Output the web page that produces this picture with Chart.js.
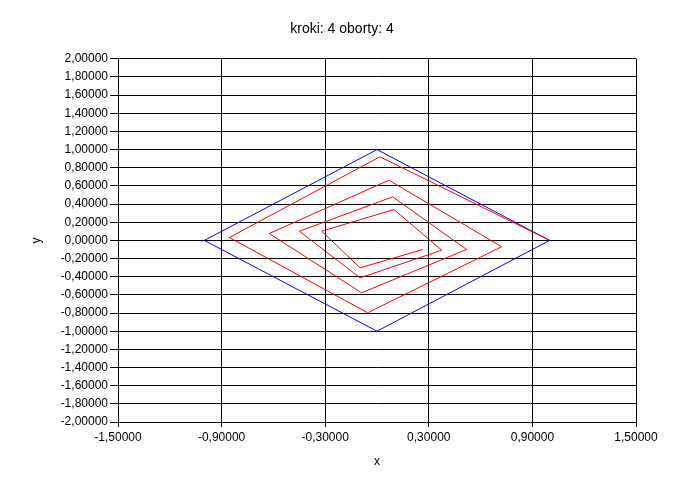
<!DOCTYPE html>
<html>
<head>
<meta charset="utf-8">
<script src="https://cdn.jsdelivr.net/npm/chart.js@4"></script>
<style>
  html, body { margin: 0; padding: 0; background: #fff; }
  #wrap { width: 684px; height: 488px; }
</style>
</head>
<body>
<div id="wrap"><canvas id="spiralChart" width="684" height="488"></canvas></div>
<script>
// outer square (blue)
const diamondX = [-1, 0, 1, 0, -1];
const diamondY = [0, 1, 0, -1, 0];

// spiral (red)
const spiralX = [1.0, 0.017, -0.855, -0.054, 0.722, 0.069, -0.624, -0.089, 0.519, 0.091, -0.450, -0.098, 0.375, 0.098, -0.320, -0.098, 0.265];
const spiralY = [0.0, 0.921, 0.032, -0.797, -0.070, 0.663, 0.076, -0.577, -0.100, 0.480, 0.101, -0.412, -0.108, 0.340, 0.101, -0.302, -0.100];

// tick labels
const xTicks = [-1.5, -0.9, -0.3, 0.3, 0.9, 1.5];
const yTicks = [-2, -1.8, -1.6, -1.4, -1.2, -1, -0.8, -0.6, -0.4, -0.2, 0, 0.2, 0.4, 0.6, 0.8, 1, 1.2, 1.4, 1.6, 1.8, 2];

const chartTitle = 'kroki: 4 oborty: 4';

function toPoints(xs, ys) {
    return xs.map(function(x, i) { return { x: x, y: ys[i] }; });
}

function fmt(v) {
    return v.toFixed(5).replace('.', ',');
}

const font = { family: 'Liberation Sans, Arial, sans-serif', size: 12 };

const ctx = document.getElementById('spiralChart').getContext('2d');

new Chart(ctx, {
    type: 'scatter',
    data: {
        datasets: [
            {
                label: 'spirala',
                data: toPoints(spiralX, spiralY),
                showLine: true,
                borderColor: '#FF0000',
                borderWidth: 1,
                pointRadius: 0,
                tension: 0
            },
            {
                label: 'kwadrat',
                data: toPoints(diamondX, diamondY),
                showLine: true,
                borderColor: '#0000FF',
                borderWidth: 1,
                pointRadius: 0,
                tension: 0
            }
        ]
    },
    options: {
        responsive: false,
        animation: false,
        layout: { padding: 0 },
        plugins: {
            legend: { display: false },
            tooltip: { enabled: false },
            title: {
                display: true,
                text: chartTitle,
                color: '#000',
                font: { family: font.family, size: 14, weight: 'normal' },
                padding: { top: 21, bottom: 21 }
            }
        },
        scales: {
            x: {
                type: 'linear',
                min: -1.5,
                max: 1.5,
                afterBuildTicks: function(scale) {
                    scale.ticks = xTicks.map(function(v) { return { value: v }; });
                },
                afterFit: function(scale) { scale.height = 66; },
                ticks: {
                    color: '#000',
                    font: font,
                    padding: 3,
                    maxRotation: 0,
                    autoSkip: false,
                    callback: function(v) { return fmt(v); }
                },
                grid: { color: '#000', lineWidth: 1, tickLength: 5 },
                border: { color: '#000' },
                title: {
                    display: true,
                    text: 'x',
                    color: '#000',
                    font: font,
                    padding: { top: 0, bottom: 19 }
                }
            },
            y: {
                type: 'linear',
                min: -2,
                max: 2,
                afterBuildTicks: function(scale) {
                    scale.ticks = yTicks.map(function(v) { return { value: v }; });
                },
                afterFit: function(scale) { scale.width = 118; },
                ticks: {
                    color: '#000',
                    font: font,
                    padding: 2,
                    autoSkip: false,
                    callback: function(v) { return fmt(v); }
                },
                grid: { color: '#000', lineWidth: 1, tickLength: 8 },
                border: { color: '#000' },
                title: {
                    display: true,
                    text: 'y',
                    color: '#000',
                    font: font,
                    padding: { top: 29, bottom: 0 }
                }
            },
            // empty right margin so the title stays centred on the whole canvas
            yRight: {
                type: 'linear',
                position: 'right',
                min: -2,
                max: 2,
                afterFit: function(scale) { scale.width = 48; },
                ticks: { display: false },
                grid: { display: false, drawOnChartArea: false },
                border: { display: false }
            }
        }
    }
});
</script>
</body>
</html>
